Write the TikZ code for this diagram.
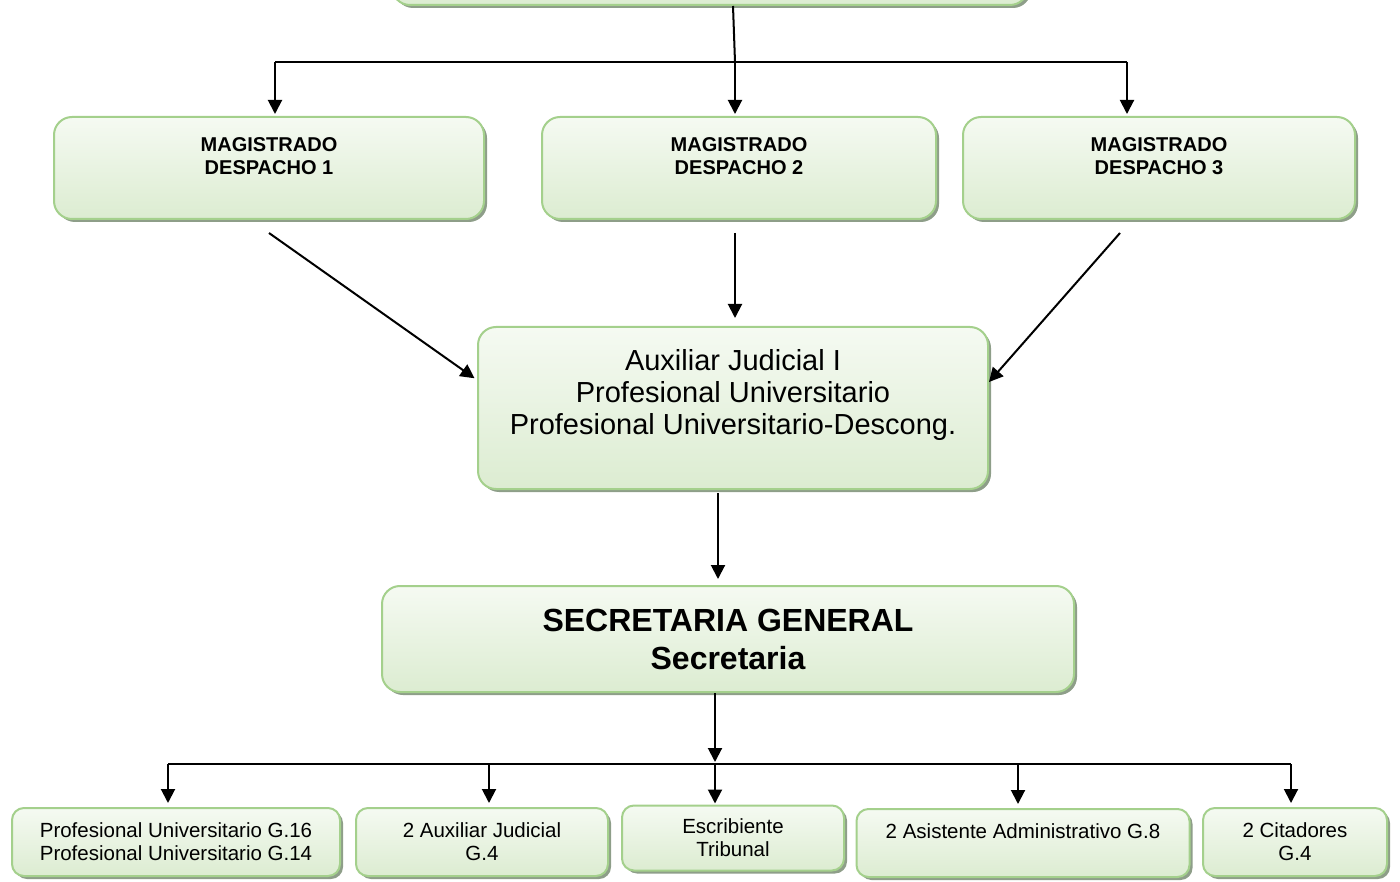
\documentclass[tikz,border=0pt]{standalone}
\usepackage{xcolor}
\usepackage{fontspec}
\setmainfont{Liberation Sans}
\usepackage{tikz}
\usetikzlibrary{positioning,arrows.meta,shadows}
\definecolor{BoxLine}{HTML}{A4D08C}
\definecolor{BoxTop}{HTML}{F5FAF2}
\definecolor{BoxBottom}{HTML}{DCECD1}
\definecolor{BoxShadow}{HTML}{8E9E89}

\begin{document}
\begin{tikzpicture}[x=1pt, y=-1pt,
    box/.style={draw=BoxLine, line width=2pt, rounded corners=18pt, top color=BoxTop, bottom color=BoxBottom,
      drop shadow={shadow xshift=3pt, shadow yshift=-3pt, fill=BoxShadow, opacity=1}, align=center, inner sep=0pt},
    smallbox/.style={box, rounded corners=12pt, minimum height=68pt, font=\fontsize{20.5}{23}\selectfont},
    magbox/.style={box, minimum height=102pt, font=\bfseries\fontsize{20}{23}\selectfont},
    line/.style={line width=2pt},
    tip/.style={line width=2pt, -{Triangle[width=14pt,length=14pt]}}]
      \useasboundingbox (0,0) rectangle (1400,882);
      \node[box, minimum width=636pt, minimum height=80pt] (top) at (710,-35) {};
      \node[magbox, minimum width=430pt] (mag1) at (269,168) {MAGISTRADO\\DESPACHO 1\\ \mbox{}};
      \node[magbox, minimum width=394pt] (mag2) at (739,168) {MAGISTRADO\\DESPACHO 2\\ \mbox{}};
      \node[magbox, minimum width=392pt] (mag3) at (1159,168) {MAGISTRADO\\DESPACHO 3\\ \mbox{}};
      \node[box, minimum width=510pt, minimum height=162pt, font=\fontsize{29}{32}\selectfont] (aux) at (733,408)
        {Auxiliar Judicial I\\Profesional Universitario\\Profesional Universitario-Descong.\\ \mbox{}};
      \node[box, minimum width=692pt, minimum height=106pt, font=\bfseries\fontsize{32}{38}\selectfont] (sec) at (728,639)
        {SECRETARIA GENERAL\\Secretaria};
      \node[smallbox, minimum width=328pt] (prof) at (176,842) {Profesional Universitario G.16\\Profesional Universitario G.14};
      \node[smallbox, minimum width=252pt] (auxjud) at (482,842) {2 Auxiliar Judicial\\G.4};
      \node[smallbox, minimum width=222pt, minimum height=65pt] (escr) at (733,838) {Escribiente\\Tribunal};
      \node[smallbox, minimum width=333pt] (asist) at (1023,843) {2 Asistente Administrativo G.8\\ \mbox{}};
      \node[smallbox, minimum width=184pt] (cit) at (1295,842) {2 Citadores\\G.4};

      \coordinate (barL) at (275,62);
      \coordinate (barM) at (735,62);
      \coordinate (barR) at (1127,62);
      \draw[line] ([xshift=23pt]top.south) -- (barM);
      \draw[line] (barL) -- (barR);
      \draw[tip, shorten >=2pt] (barL) -- (barL |- mag1.north);
      \draw[tip, shorten >=2pt] (barM) -- (barM |- mag2.north);
      \draw[tip, shorten >=2pt] (barR) -- (barR |- mag3.north);

      \draw[tip, shorten >=3pt] ([yshift=-13pt]mag1.south) -- ([yshift=28pt]aux.west);
      \draw[tip, shorten >=8pt] ([xshift=-4pt,yshift=-13pt]mag2.south) -- ([xshift=2pt]aux.north);
      \draw[tip] ([xshift=-39pt,yshift=-13pt]mag3.south) -- ([yshift=26pt]aux.east);
      \draw[tip, shorten >=6pt] ([xshift=-15pt,yshift=-3pt]aux.south) -- ([xshift=-10pt]sec.north);

      \coordinate (botL) at (168,764);
      \coordinate (bot) at (715,764);
      \coordinate (botR) at (1291,764);
      \draw[tip, shorten >=2pt] (sec.south -| bot) -- (bot);
      \draw[line] (botL) -- (botR);
      \draw[tip, shorten >=4pt] (botL) -- (botL |- prof.north);
      \draw[tip, shorten >=4pt] (489,764) -- (489,764 |- auxjud.north);
      \draw[tip, shorten >=1pt] (bot) -- (bot |- escr.north);
      \draw[tip, shorten >=4pt] (1018,764) -- (1018,764 |- asist.north);
      \draw[tip, shorten >=4pt] (botR) -- (botR |- cit.north);
\end{tikzpicture}
\end{document}
